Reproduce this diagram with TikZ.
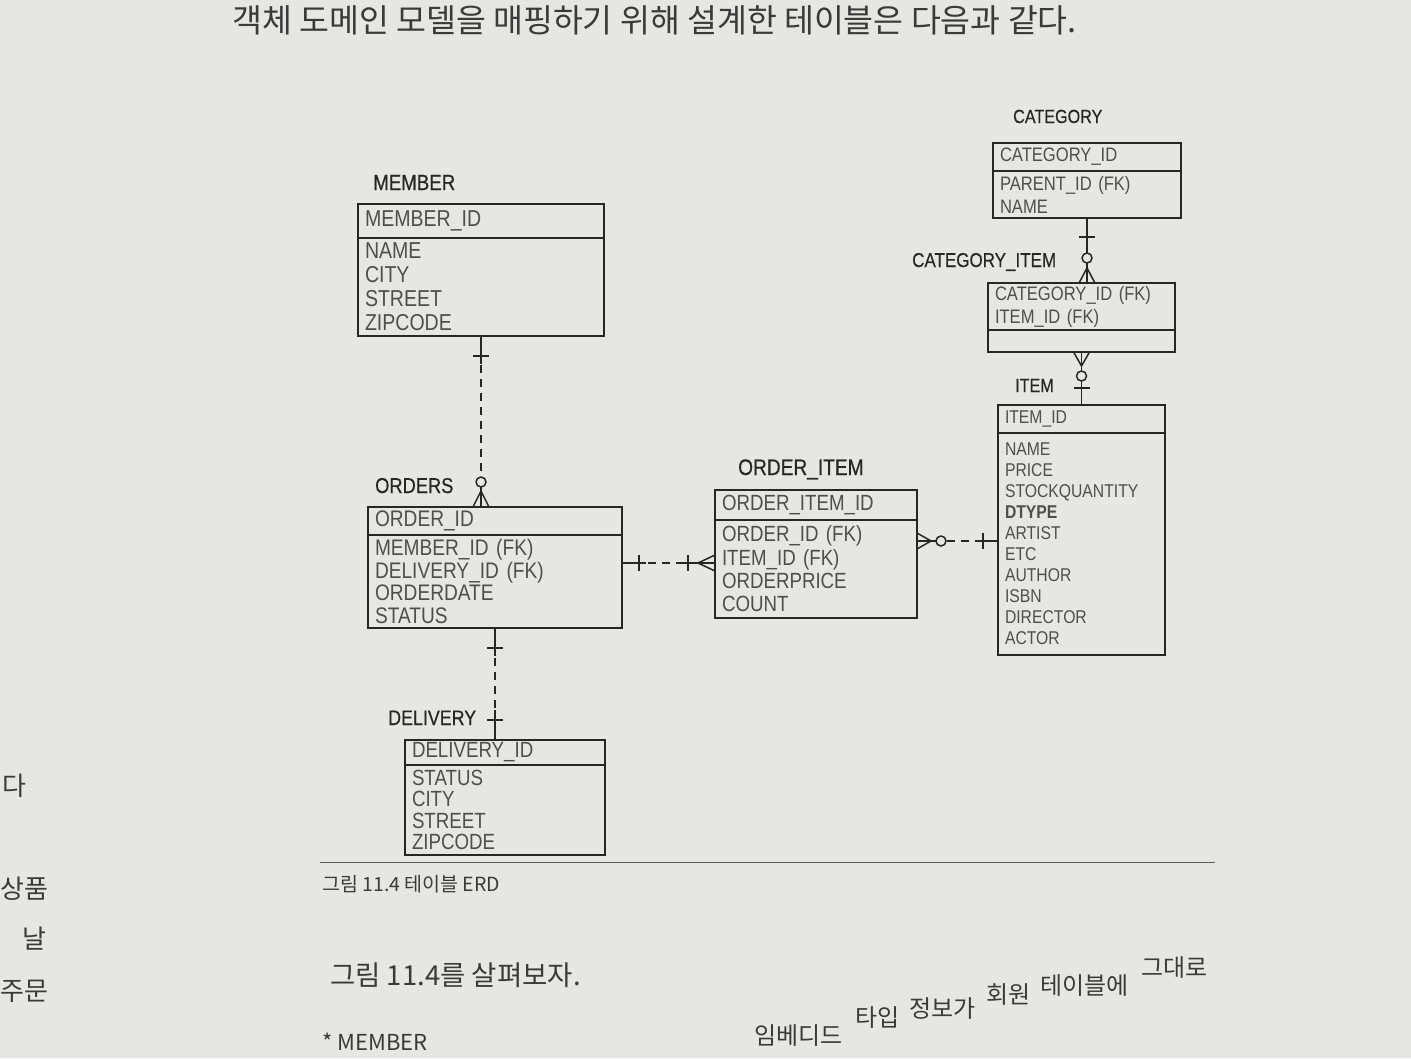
\documentclass[tikz,border=0pt]{standalone}
\usepackage{fontspec}
\newfontfamily\erdfont[FakeStretch=0.85]{Liberation Sans}
\newfontfamily\erdtitlefont[FakeStretch=0.85,FakeBold=0.5]{Liberation Sans}
\newfontfamily\krfont{Noto Sans CJK KR}
\usetikzlibrary{calc}
\definecolor{paper}{HTML}{E6E7E2}
\definecolor{ink}{HTML}{262626}
\definecolor{attr}{HTML}{4E4E4E}
\definecolor{body}{HTML}{3A3A3A}
\definecolor{faint}{HTML}{5A5A5A}
\newcommand\erdsz[2]{\erdfont\fontsize{#1}{#2}\selectfont}
\newcommand\erdtsz[2]{\erdtitlefont\fontsize{#1}{#2}\selectfont}
\begin{document}
\begin{tikzpicture}[x=1pt,y=-1pt,
  box/.style={draw=ink, line width=1.9pt, inner xsep=7pt, inner ysep=0pt, outer sep=0pt,
    anchor=north west, align=left, text=attr},
  ttl/.style={anchor=base west, text=ink, inner sep=0pt},
  rel/.style={draw=ink, line width=1.5pt},
  dsh/.style={draw=ink, line width=1.5pt, dash pattern=on 8pt off 6pt},
  ring/.style={draw=ink, line width=1.5pt, fill=paper},
  txt/.style={anchor=base west, inner sep=0pt, text=body},
  wrd/.style={txt, font=\krfont\fontsize{24}{26}\selectfont},
]
\fill[paper] (0,0) rectangle (1411,1058);
\useasboundingbox (0,0) rectangle (1411,1058);

% ---------- page text ----------
\node[txt, font=\krfont\fontsize{32.5}{34}\selectfont] (top) at (232,32) {객체 도메인 모델을 매핑하기 위해 설계한 테이블은 다음과 같다.};
\node[txt, font=\krfont\fontsize{19.5}{21}\selectfont] (cap) at (322,891) {그림 11.4 테이블 ERD};
\draw[draw=faint, line width=1.3pt] (cap.north west) ++(-2,-12) coordinate (rulel) -- ++(895,0) coordinate (ruler);
\node[txt, font=\krfont\fontsize{27.5}{29}\selectfont] (see) at (330,985) {그림 11.4를 살펴보자.};
\node[txt, font=\krfont\fontsize{22}{24}\selectfont] (memb) at (322,1050) {* MEMBER};
\node[wrd] (w1) at (754,1044) {임베디드};
\node[wrd] (w2) at (855,1026) {타입};
\node[wrd] (w3) at (909,1017) {정보가};
\node[wrd] (w4) at (986,1003) {회원};
\node[wrd] (w5) at (1040,994) {테이블에};
\node[wrd] (w6) at (1141,976) {그대로};
\node[txt, font=\krfont\fontsize{26}{28}\selectfont] (l1) at (2,795) {다};
\node[txt, font=\krfont\fontsize{26}{28}\selectfont] (l2) at (0,898) {상품};
\node[txt, font=\krfont\fontsize{26}{28}\selectfont] (l3) at (22,948) {날};
\node[txt, font=\krfont\fontsize{26}{28}\selectfont] (l4) at (0,1000) {주문};

% ---------- MEMBER ----------
\node[ttl, font=\erdtsz{22}{24}] (member-t) at (373,190) {MEMBER};
\node[box, font=\erdsz{23}{24}, text width=232pt, minimum height=34pt] (member-h) at (358,204) {MEMBER\_ID};
\node[box, font=\erdsz{23}{24}, text width=232pt, minimum height=98pt] (member-b) at (member-h.south west) {NAME\\CITY\\STREET\\ZIPCODE};

% ---------- ORDERS ----------
\node[ttl, font=\erdtsz{21.5}{23}] (orders-t) at (375,493) {ORDERS};
\node[box, font=\erdsz{22.5}{22.5}, text width=240pt, minimum height=28pt] (orders-h) at (368,507) {ORDER\_ID};
\node[box, font=\erdsz{22.5}{22.5}, text width=240pt, minimum height=93pt] (orders-b) at (orders-h.south west) {MEMBER\_ID (FK)\\DELIVERY\_ID (FK)\\ORDERDATE\\STATUS};

% ---------- DELIVERY ----------
\node[ttl, font=\erdtsz{21}{23}] (delivery-t) at (388,725) {DELIVERY};
\node[box, font=\erdsz{22}{21.5}, text width=186pt, minimum height=25pt] (delivery-h) at (405,740) {DELIVERY\_ID};
\node[box, font=\erdsz{22}{21.5}, text width=186pt, minimum height=90pt] (delivery-b) at (delivery-h.south west) {STATUS\\CITY\\STREET\\ZIPCODE};

% ---------- ORDER_ITEM ----------
\node[ttl, font=\erdtsz{22.5}{24}] (oi-t) at (738,475) {ORDER\_ITEM};
\node[box, font=\erdsz{22}{23.3}, text width=188pt, minimum height=30pt] (oi-h) at (715,490) {ORDER\_ITEM\_ID};
\node[box, font=\erdsz{22}{23.3}, text width=188pt, minimum height=98pt] (oi-b) at (oi-h.south west) {ORDER\_ID (FK)\\ITEM\_ID (FK)\\ORDERPRICE\\COUNT};

% ---------- CATEGORY ----------
\node[ttl, font=\erdtsz{19}{21}] (cat-t) at (1013,123) {CATEGORY};
\node[box, font=\erdsz{19.5}{23}, text width=174pt, minimum height=28pt] (cat-h) at (993,143) {CATEGORY\_ID};
\node[box, font=\erdsz{19.5}{23}, text width=174pt, minimum height=47pt] (cat-b) at (cat-h.south west) {PARENT\_ID (FK)\\NAME};

% ---------- CATEGORY_ITEM ----------
\node[ttl, font=\erdtsz{20}{22}] (ci-t) at (912,267) {CATEGORY\_ITEM};
\node[box, font=\erdsz{19.5}{23}, text width=173pt, minimum height=47pt] (ci-h) at (988,283) {CATEGORY\_ID (FK)\\ITEM\_ID (FK)};
\node[box, text width=173pt, minimum height=22pt] (ci-b) at (ci-h.south west) {};

% ---------- ITEM ----------
\node[ttl, font=\erdtsz{19}{21}] (item-t) at (1015,392) {ITEM};
\node[box, font=\erdsz{18.5}{21}, text width=153pt, minimum height=28pt] (item-h) at (998,405) {ITEM\_ID};
\node[box, font=\erdsz{18.5}{21}, text width=153pt, minimum height=222pt] (item-b) at (item-h.south west) {NAME\\PRICE\\STOCKQUANTITY\\\textbf{DTYPE}\\ARTIST\\ETC\\AUTHOR\\ISBN\\DIRECTOR\\ACTOR};

% ---------- MEMBER -> ORDERS ----------
\coordinate (r1a) at (member-b.south);
\coordinate (r1b) at (member-b.south |- orders-h.north);
\draw[rel] (r1a) -- ($(r1a)+(0,28)$);
\draw[rel] ($(r1a)+(-8,20)$) -- ($(r1a)+(8,20)$);
\draw[dsh] ($(r1a)+(0,29)$) -- ($(r1b)+(0,-32)$);
\draw[rel] ($(r1b)+(0,-20)$) -- (r1b);
\draw[rel] ($(r1b)+(-8,0)$) -- ($(r1b)+(0,-16)$) -- ($(r1b)+(8,0)$);
\filldraw[ring] ($(r1b)+(0,-25)$) circle (5pt);

% ---------- ORDERS -> ORDER_ITEM ----------
\coordinate (r2b) at ($(oi-b.west)+(0,-6)$);
\coordinate (r2a) at (orders-b.east |- r2b);
\draw[rel] (r2a) -- ($(r2a)+(24,0)$);
\draw[rel] ($(r2a)+(17,-8)$) -- ($(r2a)+(17,8)$);
\draw[dsh] ($(r2a)+(26,0)$) -- ($(r2b)+(-30,0)$);
\draw[rel] ($(r2b)+(-34,0)$) -- (r2b);
\draw[rel] ($(r2b)+(-27,-8)$) -- ($(r2b)+(-27,8)$);
\draw[rel] ($(r2b)+(0,-8)$) -- ($(r2b)+(-17,0)$) -- ($(r2b)+(0,8)$);

% ---------- ORDERS -> DELIVERY ----------
\coordinate (r3a) at (orders-b.south);
\coordinate (r3b) at (orders-b.south |- delivery-h.north);
\draw[rel] (r3a) -- ($(r3a)+(0,28)$);
\draw[rel] ($(r3a)+(-8,20)$) -- ($(r3a)+(8,20)$);
\draw[dsh] ($(r3a)+(0,30)$) -- ($(r3b)+(0,-28)$);
\draw[rel] ($(r3b)+(0,-30)$) -- (r3b);
\draw[rel] ($(r3b)+(-8,-20)$) -- ($(r3b)+(8,-20)$);

% ---------- ORDER_ITEM -> ITEM ----------
\coordinate (r4b) at ($(item-b.west)+(0,-3)$);
\coordinate (r4a) at (oi-b.east |- r4b);
\draw[rel] (r4a) -- ($(r4a)+(20,0)$);
\draw[rel] ($(r4a)+(0,-8)$) -- ($(r4a)+(14,0)$) -- ($(r4a)+(0,8)$);
\draw[dsh] ($(r4a)+(30,0)$) -- ($(r4b)+(-20,0)$);
\draw[rel] ($(r4b)+(-22,0)$) -- (r4b);
\draw[rel] ($(r4b)+(-15,-8)$) -- ($(r4b)+(-15,8)$);
\filldraw[ring] ($(r4a)+(24,0)$) circle (5pt);

% ---------- CATEGORY -> CATEGORY_ITEM ----------
\coordinate (r5a) at (cat-b.south);
\coordinate (r5b) at (cat-b.south |- ci-h.north);
\draw[rel] (r5a) -- (r5b);
\draw[rel] ($(r5a)+(-8,19)$) -- ($(r5a)+(8,19)$);
\draw[rel] ($(r5b)+(-8,0)$) -- ($(r5b)+(0,-15)$) -- ($(r5b)+(8,0)$);
\filldraw[ring] ($(r5b)+(0,-25)$) circle (5pt);

% ---------- CATEGORY_ITEM -> ITEM ----------
\coordinate (r6a) at (ci-b.south);
\coordinate (r6b) at (ci-b.south |- item-h.north);
\draw[rel] (r6a) -- (r6b);
\draw[rel] ($(r6a)+(-8,0)$) -- ($(r6a)+(0,14)$) -- ($(r6a)+(8,0)$);
\draw[rel] ($(r6b)+(-8,-17)$) -- ($(r6b)+(8,-17)$);
\filldraw[ring] ($(r6a)+(0,24)$) circle (5pt);
\end{tikzpicture}
\end{document}
